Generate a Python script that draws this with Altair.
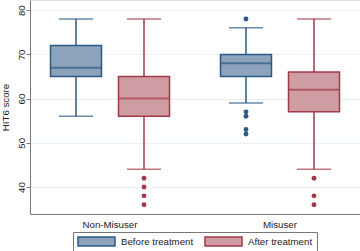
import altair as alt
import pandas as pd

groups = ["Non-Misuser", "Non-Misuser", "Misuser", "Misuser"]
times = ["Before treatment", "After treatment", "Before treatment", "After treatment"]
lower = [56, 44, 59, 44]
q1 = [65, 56, 65, 57]
median = [67, 60, 68, 62]
q3 = [72, 65, 70, 66]
upper = [78, 78, 76, 78]

out_group = ["Non-Misuser"] * 4 + ["Misuser"] * 5 + ["Misuser"] * 3
out_time = ["After treatment"] * 4 + ["Before treatment"] * 5 + ["After treatment"] * 3
out_value = [42, 40, 38, 36, 78, 57, 56, 53, 52, 42, 38, 36]

group_order = ["Non-Misuser", "Misuser"]
time_order = ["Before treatment", "After treatment"]
fill_colors = ["#8da3bb", "#cf9ca3"]
line_colors = ["#2b5985", "#a23a46"]

box = pd.DataFrame({"group": groups, "time": times, "lower": lower, "q1": q1,
                    "median": median, "q3": q3, "upper": upper})
outs = pd.DataFrame({"group": out_group, "time": out_time, "value": out_value})

FS = 9.7
xenc = alt.X("group:N", sort=group_order, title=None,
             scale=alt.Scale(paddingInner=0.2, paddingOuter=0.0706),
             axis=alt.Axis(labelAngle=0, ticks=False, domainColor="#7a7a7a",
                           labelFontSize=FS, labelPadding=5, labelColor="#222",
                           labelFont="Liberation Sans"))
xoff = alt.XOffset("time:N", sort=time_order,
                   scale=alt.Scale(paddingInner=0.25, paddingOuter=0.125))
ysc = alt.Scale(domain=[33.9, 82.3], nice=False, zero=False)
yenc_axis = alt.Axis(values=[40, 50, 60, 70, 80], labelAngle=270, tickSize=4,
                     labelAlign="center", labelBaseline="alphabetic",
                     tickColor="#7a7a7a", domainColor="#7a7a7a", gridColor="#e8f0f2",
                     labelFontSize=FS, labelPadding=2, labelColor="#222",
                     labelFont="Liberation Sans", title="HIT6 score",
                     titleFontSize=FS, titleFontWeight="normal", titlePadding=6,
                     titleFont="Liberation Sans", titleColor="#222")

line_scale = alt.Scale(domain=time_order, range=line_colors)
fill_scale = alt.Scale(domain=time_order, range=fill_colors)

legend = alt.Legend(orient="none", legendX=43, legendY=232, direction="horizontal",
                    strokeColor="#777", padding=4, fillColor="white",
                    symbolType="M-1,-1L7.22,-1L7.22,1L-1,1Z",
                    symbolSize=81, symbolStrokeWidth=1.5, symbolOpacity=1,
                    labelFontSize=FS, labelFont="Liberation Sans", labelColor="#222",
                    labelOffset=33, columnPadding=8)

base = alt.Chart(box)
ccol = alt.Color("time:N", sort=time_order, scale=line_scale, legend=None)

boxes = base.mark_bar(strokeWidth=1.5, opacity=1).encode(
    x=xenc, xOffset=xoff,
    y=alt.Y("q1:Q", scale=ysc, axis=yenc_axis), y2="q3:Q",
    fill=alt.Fill("time:N", sort=time_order, title=None, scale=fill_scale, legend=legend),
    stroke=alt.Stroke("time:N", sort=time_order, title=None, scale=line_scale, legend=legend))

whisk_lo = base.mark_rule(strokeWidth=1.5).encode(
    x=xenc, xOffset=xoff, y=alt.Y("lower:Q", scale=ysc), y2="q1:Q", color=ccol)
whisk_hi = base.mark_rule(strokeWidth=1.5).encode(
    x=xenc, xOffset=xoff, y=alt.Y("q3:Q", scale=ysc), y2="upper:Q", color=ccol)

caps_lo = base.mark_tick(size=34, thickness=1.5).encode(
    x=xenc, xOffset=xoff, y=alt.Y("lower:Q", scale=ysc), color=ccol)
caps_hi = base.mark_tick(size=34, thickness=1.5).encode(
    x=xenc, xOffset=xoff, y=alt.Y("upper:Q", scale=ysc), color=ccol)

med = base.mark_tick(size=51, thickness=2).encode(
    x=xenc, xOffset=xoff, y=alt.Y("median:Q", scale=ysc), color=ccol)

pts = alt.Chart(outs).mark_circle(size=24, opacity=1).encode(
    x=xenc, xOffset=xoff, y=alt.Y("value:Q", scale=ysc), color=ccol)

chart = alt.layer(boxes, whisk_lo, whisk_hi, caps_lo, caps_hi, med, pts).properties(
    width=330, height=214,
    autosize=alt.AutoSizeParams(type="none"),
    padding={"left": 30, "top": 0, "right": 0, "bottom": 37},
).configure_view(stroke=None).configure(background="white")

chart.save("out.html", embed_options={"renderer": "svg", "actions": False})
